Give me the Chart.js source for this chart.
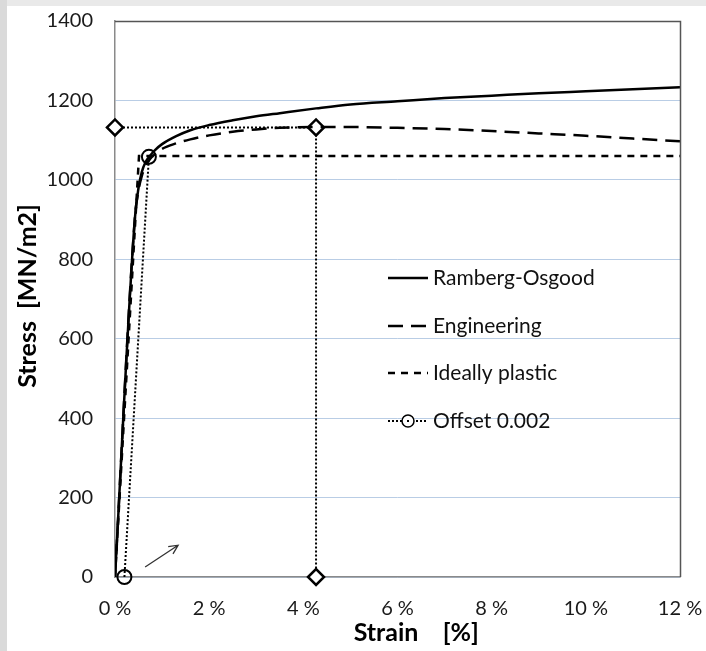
<!DOCTYPE html>
<html><head><meta charset="utf-8">
<script src="https://cdn.jsdelivr.net/npm/chart.js@4/dist/chart.umd.min.js"></script>
<style>html,body{margin:0;padding:0;background:#fff;}#wrap{position:relative;width:706px;height:651px;}canvas{display:block;}</style>
</head><body><div id="wrap"><canvas id="c" width="706" height="651"></canvas></div>
<script>
// ---- data (strain in %, stress in MN/m2) ----
const roStrain = [0, 0.42, 0.5, 0.57, 0.65, 0.74, 0.85, 1.0, 1.3, 1.6, 2.0, 2.5, 3.0, 3.5, 4.27, 5, 6, 7, 8, 9, 10, 11, 12];
const roStress = [0, 900, 980, 1020, 1045, 1060, 1075, 1090, 1110, 1125, 1138, 1150, 1160, 1168, 1180, 1190, 1198, 1206, 1212, 1218, 1223, 1228, 1233];
const engStrain = [0, 0.42, 0.5, 0.57, 0.65, 0.74, 0.85, 1.0, 1.3, 1.6, 2.0, 2.5, 3.0, 3.5, 4.27, 5, 6, 7, 8, 9, 10, 11, 12];
const engStress = [0, 900, 975, 1010, 1035, 1052, 1065, 1078, 1092, 1102, 1112, 1121, 1127, 1131, 1133, 1133, 1131, 1128, 1123, 1117, 1111, 1104, 1097];
const ipStrain = [0, 0.51, 12];
const ipStress = [0, 1060, 1060];
const offStrain = [0.2, 0.72];
const offStress = [0, 1058];
const maxStrain = [0, 4.27, 4.27];
const maxStress = [1132, 1132, 0];
const arrowStrain = [0.64, 1.34];
const arrowStress = [25, 80];
const xTicks = [0, 2, 4, 6, 8, 10, 12];
const yTicks = [0, 200, 400, 600, 800, 1000, 1200, 1400];
const seriesNames = ['Ramberg-Osgood', 'Engineering', 'Ideally plastic', 'Offset 0.002'];

const pts = (xs, ys) => xs.map((x, i) => ({x: x, y: ys[i]}));
const FONT = 'Lato';

const framePlugin = {
  id: 'frame',
  beforeDraw(chart) {
    const ctx = chart.ctx;
    ctx.save();
    ctx.fillStyle = '#ffffff';
    ctx.fillRect(0, 0, chart.width, chart.height);
    ctx.fillStyle = '#e9e9e9';
    ctx.fillRect(0, 0, chart.width, 6);
    ctx.fillStyle = '#dadada';
    ctx.fillRect(0, 0, 7, chart.height);
    ctx.restore();
  },
  afterDraw(chart) {
    const a = chart.chartArea, ctx = chart.ctx;
    ctx.save();
    ctx.lineWidth = 1.5;
    ctx.strokeStyle = '#555';
    ctx.beginPath();
    ctx.moveTo(a.left, a.top + 0.5);
    ctx.lineTo(a.right + 0.5, a.top + 0.5);
    ctx.lineTo(a.right + 0.5, a.bottom);
    ctx.stroke();
    ctx.restore();
  }
};

const arrowPlugin = {
  id: 'arrow',
  afterDatasetsDraw(chart) {
    const xs = chart.scales.x, ys = chart.scales.y, ctx = chart.ctx;
    const x0 = xs.getPixelForValue(arrowStrain[0]), y0 = ys.getPixelForValue(arrowStress[0]);
    const x1 = xs.getPixelForValue(arrowStrain[1]), y1 = ys.getPixelForValue(arrowStress[1]);
    const ang = Math.atan2(y1 - y0, x1 - x0), h = 10, sp = 0.45;
    ctx.save();
    ctx.strokeStyle = '#333';
    ctx.lineWidth = 1.3;
    ctx.beginPath();
    ctx.moveTo(x0, y0); ctx.lineTo(x1, y1);
    ctx.moveTo(x1 - h * Math.cos(ang - sp), y1 - h * Math.sin(ang - sp));
    ctx.lineTo(x1, y1);
    ctx.lineTo(x1 - h * Math.cos(ang + sp), y1 - h * Math.sin(ang + sp));
    ctx.stroke();
    ctx.restore();
  }
};

const legendPlugin = {
  id: 'customLegend',
  afterDraw(chart) {
    const ctx = chart.ctx;
    const x0 = 388, x1 = 428, tx = 433;
    const rows = [278, 326, 373, 421];
    ctx.save();
    chart.data.datasets.forEach((ds, i) => {
      if (!ds.inLegend) return;
      const y = rows[i];
      ctx.strokeStyle = '#000';
      ctx.lineWidth = ds.borderWidth;
      ctx.setLineDash(ds.borderDash || []);
      ctx.beginPath();
      ctx.moveTo(x0, y); ctx.lineTo(x1, y);
      ctx.stroke();
      ctx.setLineDash([]);
      if (ds.pointStyle === 'circle' && ds.pointRadius > 0) {
        ctx.fillStyle = '#fff';
        ctx.lineWidth = 1.5;
        ctx.beginPath();
        ctx.arc((x0 + x1) / 2, y, 6, 0, Math.PI * 2);
        ctx.fill(); ctx.stroke();
        ctx.fillStyle = '#000';
        ctx.fillRect((x0 + x1) / 2 - 1, y - 1, 2, 2);
      }
      ctx.fillStyle = '#111';
      ctx.font = '21px ' + FONT;
      ctx.textAlign = 'left';
      ctx.textBaseline = 'middle';
      ctx.fillText(ds.label, tx, y);
    });
    ctx.restore();
  }
};

new Chart(document.getElementById('c'), {
  type: 'line',
  data: {
    datasets: [
      {label: seriesNames[0], inLegend: true, data: pts(roStrain, roStress), borderColor: '#000', borderWidth: 2.5, pointRadius: 0, cubicInterpolationMode: 'monotone', fill: false},
      {label: seriesNames[1], inLegend: true, data: pts(engStrain, engStress), borderColor: '#000', borderWidth: 2.5, borderDash: [15, 8], pointRadius: 0, cubicInterpolationMode: 'monotone', fill: false},
      {label: seriesNames[2], inLegend: true, data: pts(ipStrain, ipStress), borderColor: '#000', borderWidth: 2.5, borderDash: [7, 6], pointRadius: 0, tension: 0, fill: false},
      {label: seriesNames[3], inLegend: true, data: pts(offStrain, offStress), borderColor: '#000', borderWidth: 2, borderDash: [2, 2], pointStyle: 'circle', pointRadius: 7, pointBorderWidth: 2, pointBackgroundColor: 'rgba(255,255,255,0)', pointBorderColor: '#000', tension: 0, fill: false, clip: false},
      {label: 'max', inLegend: false, data: pts(maxStrain, maxStress), borderColor: '#000', borderWidth: 2, borderDash: [2, 2], pointStyle: 'rectRot', pointRadius: 8, pointBorderWidth: 2.5, pointBackgroundColor: '#fff', pointBorderColor: '#000', tension: 0, fill: false, clip: false}
    ]
  },
  options: {
    responsive: false,
    devicePixelRatio: 1,
    animation: false,
    layout: {padding: {left: 0, right: 26, top: 21, bottom: 0}},
    plugins: {legend: {display: false}, tooltip: {enabled: false}},
    scales: {
      x: {
        type: 'linear', min: 0, max: 12,
        afterFit(s) { s.height = 74; s.paddingLeft = 0; s.paddingRight = 0; },
        afterBuildTicks(s) { s.ticks = xTicks.map(v => ({value: v})); },
        ticks: {padding: 20, color: '#1a1a1a', font: {family: FONT, size: 20}, callback: v => v + ' %', maxRotation: 0, autoSkip: false},
        grid: {display: false, drawTicks: false},
        border: {display: true, color: '#8a8a8a', width: 1.5},
        title: {display: true, text: '\u2003\u2003Strain    [%]', color: '#000', font: {family: FONT, size: 25, weight: 'bold'}, padding: {top: 0, bottom: 3}}
      },
      y: {
        type: 'linear', min: 0, max: 1400,
        afterFit(s) { s.width = 115; s.paddingTop = 0; s.paddingBottom = 0; },
        afterBuildTicks(s) { s.ticks = yTicks.map(v => ({value: v})); },
        ticks: {padding: 22, color: '#1a1a1a', font: {family: FONT, size: 20}, callback: v => String(v)},
        grid: {color: '#b9cde5', lineWidth: 1, drawTicks: false},
        border: {display: true, color: '#8a8a8a', width: 1.5},
        title: {display: true, text: ' Stress  [MN/m2]', color: '#000', font: {family: FONT, size: 25, weight: 'bold'}, padding: {top: 13, bottom: 0}}
      }
    }
  },
  plugins: [framePlugin, arrowPlugin, legendPlugin]
});
</script></body></html>
